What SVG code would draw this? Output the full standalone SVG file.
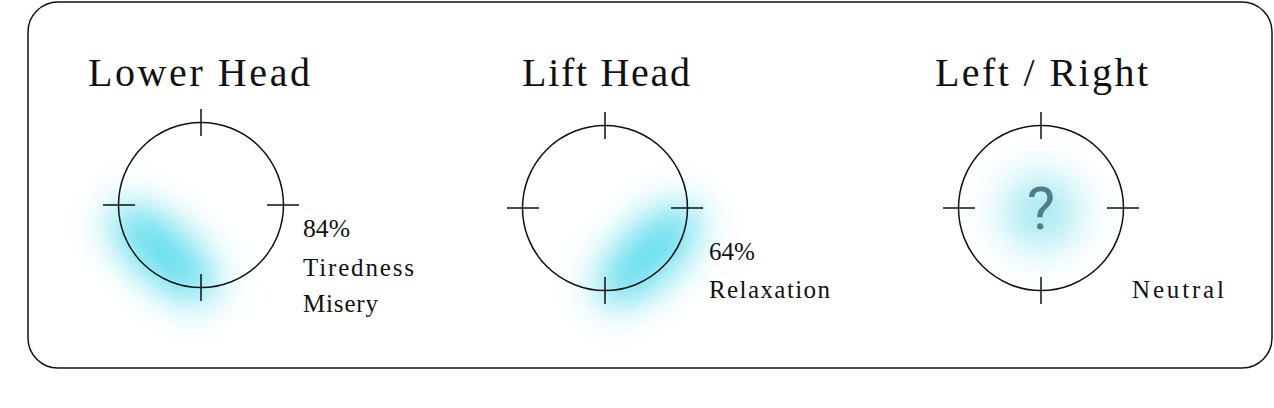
<svg xmlns="http://www.w3.org/2000/svg" width="1274" height="408" viewBox="0 0 1274 408">
<style>
.title{font-family:"Liberation Serif",serif;font-size:40px;fill:#111}
.lbl{font-family:"Liberation Serif",serif;font-size:25px;fill:#111}
.dial{fill:none;stroke:#111;stroke-width:1.5}
.tick{stroke:#111;stroke-width:1.5}
.glow{fill:#5cdcec}
</style>
<defs>
<filter id="blur" x="-100%" y="-100%" width="300%" height="300%"><feGaussianBlur stdDeviation="19"/></filter>
<filter id="blur2" x="-100%" y="-100%" width="300%" height="300%"><feGaussianBlur stdDeviation="20"/></filter>
<g id="dial">
<circle cx="0" cy="0" r="82.5" class="dial"/>
<path class="tick" d="M0,-96V-69M0,69V96M-98,0H-66M66,0H98"/>
</g>
</defs>
<rect x="28" y="2" width="1244" height="366" rx="30" fill="#fff" stroke="#111" stroke-width="1.5"/>
<g id="lower-head">
<ellipse cx="163" cy="253" rx="66" ry="28" transform="rotate(42 163 253)" class="glow" filter="url(#blur)"/>
<use href="#dial" x="201" y="205"/>
<text class="title" x="88" y="86" textLength="222" lengthAdjust="spacing">Lower Head</text>
<text class="lbl" x="303" y="237" textLength="47" lengthAdjust="spacingAndGlyphs">84%</text>
<text class="lbl" x="303" y="276" textLength="111" lengthAdjust="spacing">Tiredness</text>
<text class="lbl" x="303" y="312" textLength="75" lengthAdjust="spacing">Misery</text>
</g>
<g id="lift-head">
<ellipse cx="648" cy="255" rx="66" ry="28" transform="rotate(-45 648 255)" class="glow" filter="url(#blur)"/>
<use href="#dial" x="605" y="208"/>
<text class="title" x="522" y="86" textLength="168" lengthAdjust="spacing">Lift Head</text>
<text class="lbl" x="709" y="260" textLength="46" lengthAdjust="spacingAndGlyphs">64%</text>
<text class="lbl" x="709" y="298" textLength="121" lengthAdjust="spacing">Relaxation</text>
</g>
<g id="left-right">
<circle cx="1041" cy="212" r="38" fill="#a4e8f1" filter="url(#blur2)"/>
<use href="#dial" x="1041" y="208"/>
<text class="title" x="935" y="86" textLength="213" lengthAdjust="spacing">Left / Right</text>
<text x="1041" y="229" text-anchor="middle" font-family="Roboto, sans-serif" font-size="60" fill="#4e7f88">?</text>
<text class="lbl" x="1132" y="298" textLength="92" lengthAdjust="spacing">Neutral</text>
</g>
<g id="connectors"/>
</svg>
